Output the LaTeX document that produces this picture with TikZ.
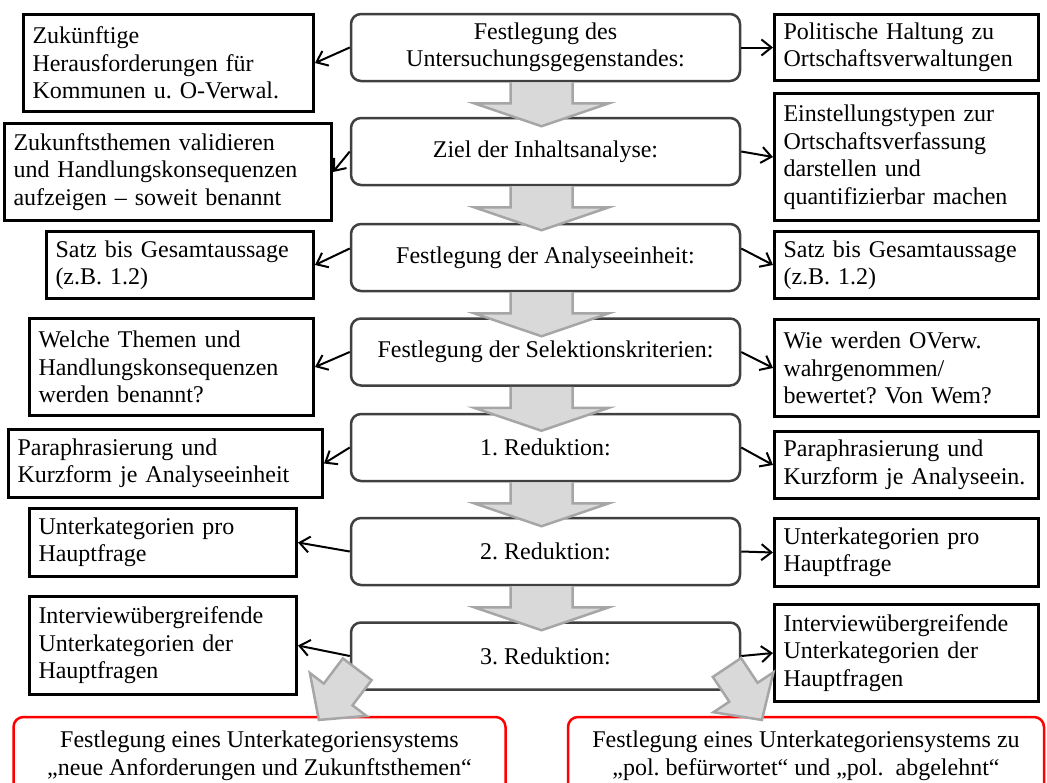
\documentclass[tikz,border=0pt]{standalone}
\usepackage{fontspec}
\setmainfont{Liberation Serif}
\usetikzlibrary{arrows.meta,calc}
\frenchspacing
\hyphenpenalty=10000
\definecolor{stepline}{HTML}{404040}
\definecolor{arrfill}{HTML}{D9D9D9}
\definecolor{arrline}{HTML}{A6A6A6}
\tikzset{
  stepbox/.style={draw=stepline,line width=2.5pt,rounded corners=10pt,fill=white,
    minimum width=389pt,minimum height=67pt,align=center,inner sep=2pt},
  sidebox/.style 2 args={draw,line width=3pt,fill=white,align=left,
    inner xsep=9pt,inner ysep=2pt,text width=#1pt,minimum height=#2pt},
  resultbox/.style={draw=red,line width=2.5pt,rounded corners=10pt,fill=white,
    align=center,minimum height=78pt},
  blockarr/.style={fill=arrfill,draw=arrline,line width=2.5pt,line join=miter},
  link/.style={->,line width=2pt},
}
% block arrow: [closing] start, dx, dy, shaft half width, head half width, shaft length, head length
\newcommand{\blockarrow}[8][]{%
  \draw[blockarr]
    ($(#2)+({-(#4)*(#5)},{(#3)*(#5)})$)
    -- ($(#2)+({(#3)*(#7)-(#4)*(#5)},{(#4)*(#7)+(#3)*(#5)})$)
    -- ($(#2)+({(#3)*(#7)-(#4)*(#6)},{(#4)*(#7)+(#3)*(#6)})$)
    -- ($(#2)+({(#3)*((#7)+(#8))},{(#4)*((#7)+(#8))})$)
    -- ($(#2)+({(#3)*(#7)+(#4)*(#6)},{(#4)*(#7)-(#3)*(#6)})$)
    -- ($(#2)+({(#3)*(#7)+(#4)*(#5)},{(#4)*(#7)-(#3)*(#5)})$)
    -- ($(#2)+({(#4)*(#5)},{-(#3)*(#5)})$) #1;}

\begin{document}
\begin{tikzpicture}[x=1pt,y=-1pt,font=\fontsize{24}{27.5}\selectfont,
    >={Straight Barb[length=10pt,width=16pt]}]
  \useasboundingbox (0,0) rectangle (1047,782);
  \clip (0,0) rectangle (1047,782);

  % left column
  \node[sidebox={272}{97}] (l1) at (168.5,63) {Zukünftige\\Herausforderungen für\\Kommunen u. O-Verwal.};
  \node[sidebox={309}{97}] (l2) at (168,172) {Zukunftsthemen validieren\\und Handlungskonsequenzen\\aufzeigen -- soweit benannt};
  \node[sidebox={249}{67}] (l3) at (180,265) {Satz bis Gesamtaussage\\(z.B. 1.2)};
  \node[sidebox={266}{97}] (l4) at (171.5,367) {Welche Themen und\\Handlungskonsequenzen\\werden benannt?};
  \node[sidebox={296}{68}] (l5) at (165.5,463.5) {Paraphrasierung und\\Kurzform je Analyseeinheit};
  \node[sidebox={249}{68}] (l6) at (163,542.5) {Unterkategorien pro\\Hauptfrage};
  \node[sidebox={249}{98}] (l7) at (163,645.5) {Interviewübergreifende\\Unterkategorien der\\Hauptfragen};

  % right column
  \node[sidebox={246}{66}] (r1) at (906.5,47.5) {Politische Haltung zu\\Ortschaftsverwaltungen};
  \node[sidebox={246}{127}] (r2) at (906.5,157) {Einstellungstypen zur\\Ortschaftsverfassung\\darstellen und\\quantifizierbar machen};
  \node[sidebox={246}{67}] (r3) at (906.5,265) {Satz bis Gesamtaussage\\(z.B. 1.2)};
  \node[sidebox={246}{97}] (r4) at (906.5,368) {Wie werden OVerw.\\wahrgenommen/\\bewertet? Von Wem?};
  \node[sidebox={246}{67}] (r5) at (906.5,465) {Paraphrasierung und\\Kurzform je Analyseein.};
  \node[sidebox={246}{68}] (r6) at (906.5,552.5) {Unterkategorien pro\\Hauptfrage};
  \node[sidebox={246}{97}] (r7) at (906.5,653) {Interviewübergreifende\\Unterkategorien der\\Hauptfragen};

  % middle column
  \node[stepbox] (c1) at (545.5,47.5) {Festlegung des\\Untersuchungsgegenstandes:};
  \node[stepbox] (c2) at (545.5,151.5) {Ziel der Inhaltsanalyse:};
  \node[stepbox] (c3) at (545.5,257.5) {Festlegung der Analyseeinheit:};
  \node[stepbox] (c4) at (545.5,352) {Festlegung der Selektionskriterien:};
  \node[stepbox] (c5) at (545.5,447.5) {1. Reduktion:};
  \node[stepbox] (c6) at (545.5,551.5) {2. Reduktion:};
  \node[stepbox] (c7) at (545.5,656) {3. Reduktion:};

  \foreach \i in {1,2,4,5,6,7}{
    \draw[link] (c\i.west) -- (l\i.east);
    \draw[link] (c\i.east) -- (r\i.west);
  }
  \draw[link] ([yshift=9pt]c3.west) -- (l3.east);
  \draw[link] ([yshift=9pt]c3.east) -- (r3.west);

  % results
  \node[resultbox,minimum width=492pt] (res1) at (259.5,756) {Festlegung eines Unterkategoriensystems\\„neue Anforderungen und Zukunftsthemen“};
  \node[resultbox,minimum width=476pt] (res2) at (806,756) {Festlegung eines Unterkategoriensystems zu\\„pol. befürwortet“ und „pol.\ \ abgelehnt“};

  % block arrows
  \foreach \i in {1,...,6}{
    \coordinate (s\i) at ([xshift=-4pt]c\i.south);
    \blockarrow{s\i}{0}{1}{31}{67.5}{21}{23}
  }
  \coordinate (dl) at ($(c7.south west)+(7.5,-21.5)$);
  \coordinate (dr) at ($(c7.south east)+(-14.3,-23.3)$);
  \blockarrow[-- cycle]{dl}{-0.604}{0.797}{18}{35.5}{31.6}{32}
  \blockarrow[-- cycle]{dr}{0.554}{0.832}{17}{36}{29.8}{33.3}
\end{tikzpicture}
\end{document}
